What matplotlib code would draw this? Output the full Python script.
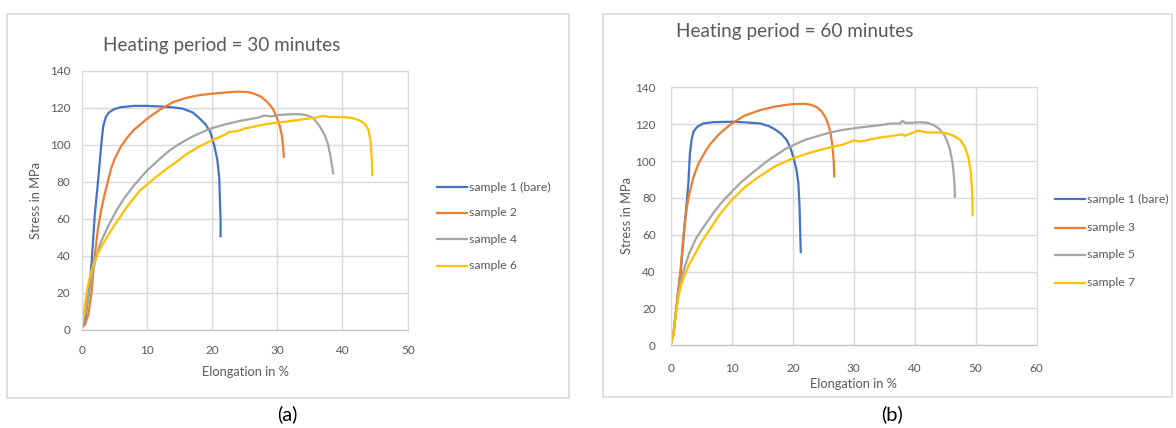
import matplotlib
matplotlib.use('Agg')
import matplotlib.pyplot as plt
from matplotlib.lines import Line2D
from matplotlib.patches import Rectangle

plt.rcParams['font.family'] = ['Lato', 'DejaVu Sans']

# ---- panel (a): heating period 30 minutes ----
a_s1_x = [0, 0.5, 1, 1.5, 2, 2.5, 3, 3.3, 3.7, 4.2, 5, 6, 8, 10, 12, 14, 15.5, 17, 18, 19, 19.7, 20.3, 20.8, 21.1, 21.2, 21.3, 21.3]
a_s1_y = [1, 5, 18, 35, 62, 80, 100, 110, 115, 117.5, 119.3, 120.3, 121, 121, 120.7, 120.2, 119.5, 117.5, 114.5, 111, 107, 100, 92, 82, 70, 60, 50]

a_s2_x = [0, 0.5, 1, 1.5, 2, 2.5, 3, 3.5, 4, 4.5, 5, 6, 7, 8, 10, 12, 14, 16, 18, 20, 22, 24, 25.5, 26.5, 27.5, 28.5, 29.3, 29.9, 30.4, 30.7, 30.9, 31]
a_s2_y = [1, 3, 8, 20, 40, 55, 65, 73, 80, 87, 92, 99, 104, 108, 114, 119, 123, 125.3, 126.8, 127.6, 128.2, 128.7, 128.5, 127.5, 126, 123, 119.5, 115, 110, 105, 99, 93]

a_s4_x = [0, 0.5, 1, 1.5, 2, 2.5, 3, 3.6, 4.2, 4.8, 5.4, 6.5, 8, 10, 12, 13.5, 15, 17, 18.6, 20, 22, 24, 26, 27, 28, 29, 30, 32, 33.5, 34.5, 35.5, 36.5, 37.3, 37.8, 38.2, 38.6]
a_s4_y = [1, 8, 17, 27, 36, 43, 48, 52.5, 57, 61, 65, 71, 78, 86, 92.5, 97, 100.5, 104.5, 107, 109, 111, 112.7, 114, 114.6, 115.8, 115.3, 116, 116.5, 116.5, 116, 114.5, 110, 105, 100, 93, 84]

a_s6_x = [0, 0.3, 0.6, 1, 1.5, 2.3, 3, 4.2, 5, 5.9, 6.5, 7.6, 9, 11, 13, 15, 16, 18, 20, 21, 22, 22.5, 24, 25, 26, 28, 30, 32, 34, 36, 37, 38, 40, 41.5, 42.7, 43.5, 44, 44.3, 44.5, 44.55]
a_s6_y = [1, 8, 16, 25, 32, 40, 45, 52, 56.5, 61, 64.3, 69.5, 75.5, 81.5, 87, 92, 94.8, 99, 102.5, 104, 105.5, 106.8, 107.5, 108.8, 109.5, 111, 112, 112.8, 113.8, 114.7, 115.6, 115, 115, 114.5, 113, 111, 108, 102, 92, 83]

# ---- panel (b): heating period 60 minutes ----
b_s1_x = [0, 0.4, 0.8, 1.2, 1.6, 2.1, 2.6, 2.85, 3.1, 3.4, 3.7, 4.3, 5.3, 7, 10, 12, 14.6, 16, 16.8, 18, 19, 19.6, 20.1, 20.6, 20.9, 21.1, 21.2, 21.3]
b_s1_y = [1, 6, 18, 30, 40, 60, 78, 88, 104, 112, 116, 118.5, 120.4, 121.1, 121.3, 121, 120.4, 119, 117.7, 115, 111.4, 107, 102, 95, 88, 75, 62, 50]

b_s3_x = [0, 0.4, 0.8, 1.2, 1.6, 2, 2.4, 2.8, 3.66, 4.5, 5.5, 6.4, 8, 10, 12, 14.6, 17, 19, 20, 22, 23, 24, 24.7, 25.3, 25.8, 26.2, 26.5, 26.7, 26.8]
b_s3_y = [1, 6, 18, 30, 42, 58, 70, 79, 91, 98.5, 104.5, 109, 115, 120.4, 124.5, 127.6, 129.5, 130.5, 130.9, 131, 130.5, 129, 127, 124, 120, 115, 108, 100, 91]

b_s5_x = [0, 0.4, 0.8, 1.2, 1.6, 2.2, 3, 4.1, 5.3, 7, 8.3, 10, 11.5, 13.5, 16, 19, 22, 25.6, 28, 31, 34, 36, 37.6, 38, 38.5, 40.9, 42, 43.1, 44, 44.7, 45.3, 45.8, 46.2, 46.4, 46.55, 46.6]
b_s5_y = [1, 6, 18, 27, 35, 42, 50, 58, 64, 72, 77.5, 83.5, 88.5, 94, 100.5, 107, 111.5, 115, 116.8, 118.2, 119.3, 120.3, 120.4, 121.8, 120.6, 121, 120.8, 119.5, 117.5, 115, 111, 106, 99, 93, 86, 80]

b_s7_x = [0, 0.4, 0.8, 1.2, 1.6, 2.2, 3, 4, 5, 6.4, 8, 10, 12, 14, 17, 20, 22.8, 25, 28.3, 30, 31, 33.8, 36, 38, 38.3, 39.8, 40.5, 42, 44, 45.3, 46.5, 47.5, 48.3, 48.8, 49.2, 49.4, 49.5]
b_s7_y = [1, 6, 17, 26, 32, 38, 44, 50, 56, 63, 71, 79, 85.5, 90.5, 97, 101.5, 104.5, 106.5, 109, 111.2, 110.5, 112.5, 113.5, 114.5, 113.6, 115.5, 116.5, 115.5, 115.5, 115, 113.5, 111.4, 107, 102, 94, 85, 70]

a_labels = ['sample 1 (bare)', 'sample 2', 'sample 4', 'sample 6']
b_labels = ['sample 1 (bare)', 'sample 3', 'sample 5', 'sample 7']
colors = ['#4472C4', '#ED7D31', '#A5A5A5', '#FFC000']

W, H = 1176, 428
TXT = '#595959'
GRID = '#D9D9D9'

fig = plt.figure(figsize=(W / 100, H / 100), dpi=100)


def fx(px):
    return px / W


def fy(py):
    return 1 - py / H


def panel(frame, box, xmax, title, title_xy, series, labels, leg, ylab_xy, xlab_xy, xpad, ypad):
    fig.add_artist(Rectangle((fx(frame[0]), fy(frame[3])), fx(frame[2] - frame[0]), (frame[3] - frame[1]) / H,
                             transform=fig.transFigure, fill=False, edgecolor='#D9D9D9', lw=1.2))
    l, t, r, b = box
    ax = fig.add_axes([fx(l), fy(b), fx(r - l), (b - t) / H])
    for (xs, ys), c in zip(series, colors):
        ax.plot(xs, ys, color=c, lw=1.6, solid_capstyle='butt', solid_joinstyle='round')
    ax.set_xlim(0, xmax)
    ax.set_ylim(0, 140)
    ax.set_xticks(range(0, xmax + 1, 10))
    ax.set_yticks(range(0, 141, 20))
    ax.grid(True, color=GRID, lw=1)
    ax.set_axisbelow(True)
    for s in ax.spines.values():
        s.set_color(GRID)
    ax.spines['bottom'].set_color('#BFBFBF')
    ax.tick_params(length=0, labelsize=8.5, colors=TXT)
    ax.tick_params(axis='x', pad=xpad)
    ax.tick_params(axis='y', pad=ypad)
    fig.text(fx(title_xy[0]), fy(title_xy[1]), title, fontsize=13.6, color=TXT, ha='left', va='center')
    fig.text(fx(ylab_xy[0]), fy(ylab_xy[1]), 'Stress in MPa', fontsize=9.3, color=TXT, rotation=90, ha='center', va='center')
    fig.text(fx(xlab_xy[0]), fy(xlab_xy[1]), 'Elongation in %', fontsize=9.3, color=TXT, ha='center', va='center')
    x0, x1, ys = leg
    for lab, c, yy in zip(labels, colors, ys):
        fig.add_artist(Line2D([fx(x0), fx(x1)], [fy(yy), fy(yy)], color=c, lw=1.6, transform=fig.transFigure))
        fig.text(fx(x1 + 2), fy(yy), lab, fontsize=8.8, color=TXT, ha='left', va='center')
    return ax


panel((7, 14, 569, 398), (81.7, 70.7, 407.7, 330), 50, 'Heating period = 30 minutes', (103, 46),
      [(a_s1_x, a_s1_y), (a_s2_x, a_s2_y), (a_s4_x, a_s4_y), (a_s6_x, a_s6_y)], a_labels,
      (437, 467, [187.3, 212.7, 239.3, 265.7]), (36, 200), (245, 372), 11, 8)

panel((603, 14, 1172, 397), (671, 87.3, 1036.6, 345.3), 60, 'Heating period = 60 minutes', (676, 32),
      [(b_s1_x, b_s1_y), (b_s3_x, b_s3_y), (b_s5_x, b_s5_y), (b_s7_x, b_s7_y)], b_labels,
      (1055, 1085, [199, 227.7, 255, 282.7]), (627, 215), (854, 384), 13, 11)

fig.text(fx(287), fy(414), '(a)', fontsize=14.5, color='black', ha='center', va='center')
fig.text(fx(892), fy(414), '(b)', fontsize=14.5, color='black', ha='center', va='center')

fig.savefig('out.png', dpi=100, facecolor='white')
